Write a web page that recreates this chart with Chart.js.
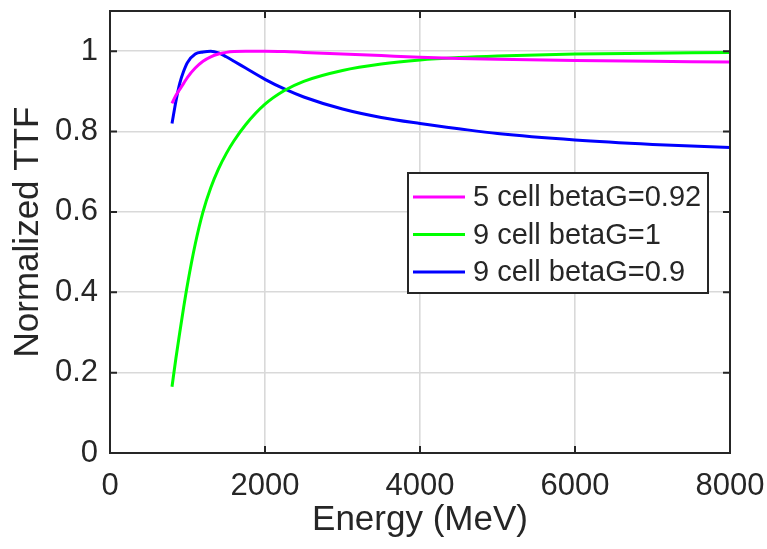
<!DOCTYPE html>
<html>
<head>
<meta charset="utf-8">
<script src="https://cdn.jsdelivr.net/npm/chart.js@4"></script>
<style>
  body { margin: 0; background: #fff; }
  #wrap { width: 767px; height: 549px; }
</style>
</head>
<body>
<div id="wrap"><canvas id="ttf" width="767" height="549"></canvas></div>
<script>
const energy = [800, 850, 900, 950, 1000, 1100, 1200, 1300, 1400, 1500, 1600, 1750, 2000, 2250, 2500, 3000, 3500, 4000, 4500, 5000, 6000, 7000, 8000];
const ttf5cell092 = [0.87, 0.89, 0.905, 0.92, 0.935, 0.958, 0.975, 0.986, 0.993, 0.997, 0.999, 1.0, 1.0, 0.999, 0.997, 0.993, 0.989, 0.985, 0.982, 0.98, 0.977, 0.975, 0.973];
const ttf9cell1 = [0.165, 0.235, 0.30, 0.362, 0.42, 0.52, 0.60, 0.66, 0.707, 0.745, 0.777, 0.817, 0.868, 0.902, 0.925, 0.952, 0.968, 0.978, 0.984, 0.988, 0.993, 0.995, 0.997];
const ttf9cell09 = [0.82, 0.875, 0.92, 0.95, 0.972, 0.993, 0.998, 1.0, 0.996, 0.986, 0.975, 0.958, 0.93, 0.906, 0.886, 0.856, 0.835, 0.82, 0.807, 0.795, 0.779, 0.768, 0.76];
const seriesNames = ['5 cell betaG=0.92', '9 cell betaG=1', '9 cell betaG=0.9'];
const seriesColors = ['#ff00ff', '#00ff00', '#0000ff'];
const xTicks = [0, 2000, 4000, 6000, 8000];
const yTicks = [0, 0.2, 0.4, 0.6, 0.8, 1];

const FONT = "'Liberation Sans', Arial, Helvetica, sans-serif";
const AXIS = '#262626';

const toPoints = vals => energy.map((e, i) => ({ x: e, y: vals[i] }));

// MATLAB style box with inward ticks
const frame = {
  id: 'frame',
  afterDraw(chart) {
    const { ctx, chartArea: a, scales: { x, y } } = chart;
    ctx.save();
    ctx.strokeStyle = AXIS;
    ctx.lineWidth = 2;
    ctx.strokeRect(a.left, a.top, a.right - a.left, a.bottom - a.top);
    ctx.beginPath();
    xTicks.forEach(v => {
      const px = x.getPixelForValue(v);
      ctx.moveTo(px, a.bottom); ctx.lineTo(px, a.bottom - 7);
      ctx.moveTo(px, a.top); ctx.lineTo(px, a.top + 7);
    });
    yTicks.forEach(v => {
      const py = y.getPixelForValue(v);
      ctx.moveTo(a.left, py); ctx.lineTo(a.left + 7, py);
      ctx.moveTo(a.right, py); ctx.lineTo(a.right - 7, py);
    });
    ctx.stroke();
    ctx.restore();
  }
};

// legend box drawn inside the axes
const boxLegend = {
  id: 'boxLegend',
  afterDatasetsDraw(chart) {
    const { ctx, chartArea: a } = chart;
    const left = a.right - 322, top = a.top + 162, w = 300, h = 120;
    ctx.save();
    ctx.fillStyle = '#fff';
    ctx.fillRect(left, top, w, h);
    ctx.strokeStyle = AXIS;
    ctx.lineWidth = 2;
    ctx.strokeRect(left, top, w, h);
    ctx.font = '29px ' + FONT;
    ctx.textBaseline = 'middle';
    ctx.textAlign = 'left';
    chart.data.datasets.forEach((ds, i) => {
      const cy = top + 24 + i * 37.5;
      ctx.strokeStyle = ds.borderColor;
      ctx.lineWidth = 3;
      ctx.beginPath();
      ctx.moveTo(left + 5, cy); ctx.lineTo(left + 57, cy);
      ctx.stroke();
      ctx.fillStyle = '#262626';
      ctx.fillText(ds.label, left + 65, cy + 1);
    });
    ctx.restore();
  }
};

new Chart(document.getElementById('ttf'), {
  type: 'line',
  data: {
    datasets: [ttf5cell092, ttf9cell1, ttf9cell09].map((vals, i) => ({
      label: seriesNames[i],
      data: toPoints(vals),
      borderColor: seriesColors[i],
      borderWidth: 3,
      pointRadius: 0,
      cubicInterpolationMode: 'monotone',
      fill: false
    }))
  },
  options: {
    responsive: false,
    animation: false,
    layout: { padding: { top: 11, right: 37, left: 0, bottom: 0 } },
    scales: {
      x: {
        type: 'linear',
        min: 0,
        max: 8000,
        afterBuildTicks: s => { s.ticks = xTicks.map(v => ({ value: v })); },
        afterFit: s => { s.height = 96; s.paddingLeft = 0; s.paddingRight = 0; },
        border: { display: false },
        grid: { color: '#d9d9d9', lineWidth: 1.6, drawTicks: false },
        ticks: {
          padding: 15,
          color: AXIS,
          font: { family: FONT, size: 31 },
          maxRotation: 0,
          callback: v => String(v)
        },
        title: {
          display: true,
          text: 'Energy (MeV)',
          color: AXIS,
          font: { family: FONT, size: 35 },
          padding: { top: 0, bottom: 8 }
        }
      },
      y: {
        min: 0,
        max: 1.1,
        afterBuildTicks: s => { s.ticks = yTicks.map(v => ({ value: v })); },
        afterFit: s => { s.width = 110; s.paddingTop = 0; s.paddingBottom = 0; },
        border: { display: false },
        grid: { color: '#d9d9d9', lineWidth: 1.6, drawTicks: false },
        ticks: {
          padding: 12,
          color: AXIS,
          font: { family: FONT, size: 31 },
          callback: v => String(+v.toFixed(1))
        },
        title: {
          display: true,
          text: 'Normalized TTF',
          color: AXIS,
          font: { family: FONT, size: 35 },
          padding: { top: 7, bottom: 0 }
        }
      }
    },
    plugins: {
      legend: { display: false },
      tooltip: { enabled: false }
    }
  },
  plugins: [frame, boxLegend]
});
</script>
</body>
</html>
